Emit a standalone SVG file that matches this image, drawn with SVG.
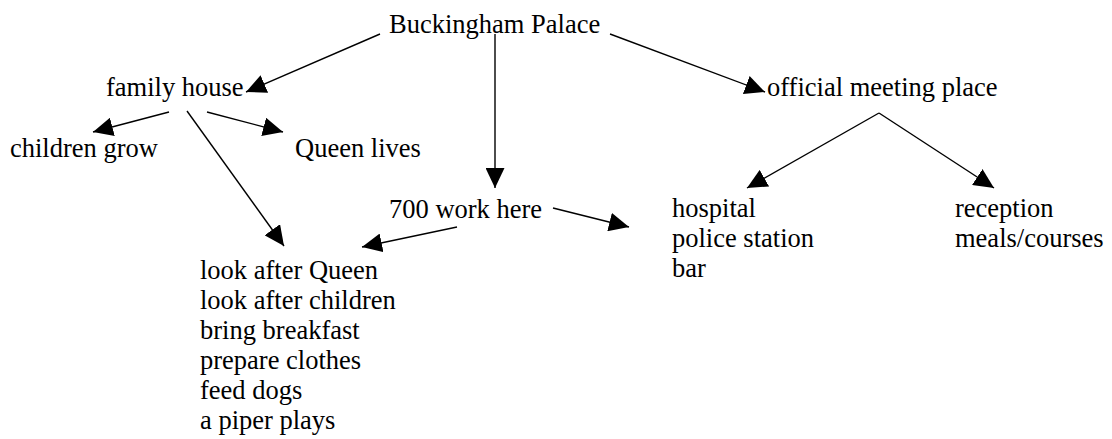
<svg xmlns="http://www.w3.org/2000/svg" width="1112" height="439" viewBox="0 0 1112 439">
<style>
text{font-family:"Liberation Serif","Times New Roman",serif;font-size:26.5px;fill:#000}
.c line{stroke:#000;stroke-width:1.4;marker-end:url(#ah)}
</style>
<defs>
<marker id="ah" markerUnits="userSpaceOnUse" markerWidth="20" markerHeight="19" refX="20" refY="9.5" orient="auto" viewBox="0 0 20 19">
<path d="M0,0 L20,9.5 L0,19 z" fill="#000"/>
</marker>
</defs>
<rect width="1112" height="439" fill="#fff"/>
<g id="buckingham"><text x="389" y="33">Buckingham Palace</text></g>
<g id="family"><text x="106" y="96">family house</text></g>
<g id="official"><text x="767" y="96">official meeting place</text></g>
<g id="children"><text x="10" y="157">children grow</text></g>
<g id="queen"><text x="295" y="157">Queen lives</text></g>
<g id="work"><text x="389" y="218">700 work here</text></g>
<g id="places"><text x="672" y="217">hospital</text><text x="672" y="247">police station</text><text x="672" y="277">bar</text></g>
<g id="reception"><text x="955" y="217">reception</text><text x="955" y="247">meals/courses</text></g>
<g id="duties"><text x="200" y="279">look after Queen</text><text x="200" y="309">look after children</text><text x="200" y="339">bring breakfast</text><text x="200" y="369">prepare clothes</text><text x="200" y="399">feed dogs</text><text x="200" y="429">a piper plays</text></g>
<g class="c" id="connectors">
<line x1="380" y1="34" x2="246" y2="92"/>
<line x1="495" y1="34" x2="495" y2="188"/>
<line x1="610" y1="34" x2="765" y2="92"/>
<line x1="169" y1="112" x2="93" y2="132"/>
<line x1="207" y1="112" x2="283" y2="132"/>
<line x1="187" y1="111" x2="284" y2="246"/>
<line x1="879" y1="113" x2="747" y2="188"/>
<line x1="879" y1="113" x2="994" y2="188"/>
<line x1="457" y1="227" x2="362" y2="247"/>
<line x1="553" y1="208" x2="629" y2="227"/>
</g>
</svg>
